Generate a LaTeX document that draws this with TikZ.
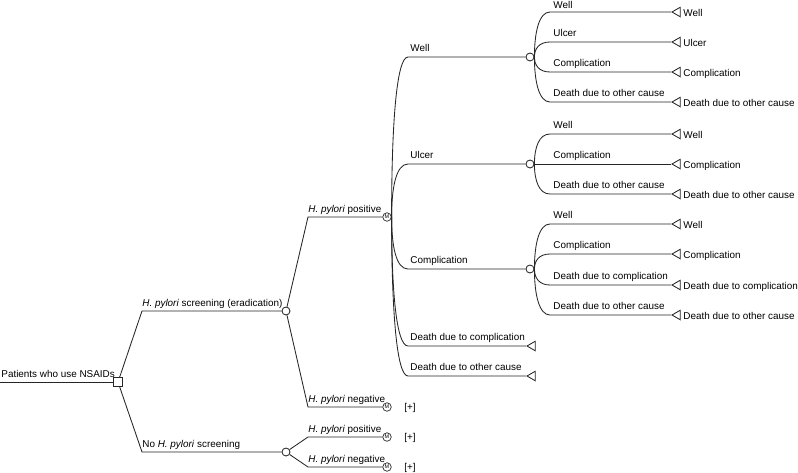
\documentclass[tikz,border=0pt]{standalone}
\usepackage{fontspec}
\setmainfont{Liberation Sans}
\usetikzlibrary{shapes.geometric}
\begin{document}
\begin{tikzpicture}[x=1pt,y=-1pt,line width=0.85pt,draw=black!85,
  lbl/.style={anchor=base west,inner sep=0,font=\fontsize{9.9}{12}\selectfont},
  chance/.style={circle,draw,fill=white,minimum size=8pt,inner sep=0},
  markov/.style={circle,draw,fill=white,minimum size=8.5pt,inner sep=0,line width=0.7pt,font=\fontsize{5.5}{5.5}\selectfont},
  decision/.style={rectangle,draw,fill=white,minimum size=8.5pt,inner sep=0},
  term/.style={regular polygon,regular polygon sides=3,regular polygon rotate=90,draw,minimum size=11pt,inner sep=0}]
\useasboundingbox (0,0) rectangle (798,472);

% root
\coordinate (start) at (0,382);
\node[decision] (root) at (118,382) {};
\draw (start) -- (root);
\node[lbl] (lroot) at (1,377) {Patients who use NSAIDs};

% first level
\coordinate (k1) at (142,311);
\coordinate (k2) at (142,452);
\node[chance] (c1) at (286,311) {};
\node[chance] (c2) at (286,452) {};
\draw (root) -- (k1) -- (c1);
\draw (root) -- (k2) -- (c2);
\node[lbl] (l1) at (142,306) {\textit{H. pylori} screening (eradication)};
\node[lbl] (l2) at (142,447) {No \textit{H. pylori} screening};

% second level
\coordinate (k3) at (308,217);
\coordinate (k4) at (308,407);
\coordinate (k5) at (308,437);
\coordinate (k6) at (308,467);
\node[markov] (m1) at (387,217) {M};
\node[markov] (m2) at (387,407) {M};
\node[markov] (m3) at (387,437) {M};
\node[markov] (m4) at (387,467) {M};
\draw (c1) -- (k3) -- (m1);
\draw (c1) -- (k4) -- (m2);
\draw (c2) -- (k5) -- (m3);
\draw (c2) -- (k6) -- (m4);
\node[lbl] (l3) at (308,212) {\textit{H. pylori} positive};
\node[lbl] (l4) at (308,402) {\textit{H. pylori} negative};
\node[lbl] (l5) at (308,432) {\textit{H. pylori} positive};
\node[lbl] (l6) at (308,462) {\textit{H. pylori} negative};
\node[lbl] (p2) at (404,410) {[+]};
\node[lbl] (p3) at (404,440) {[+]};
\node[lbl] (p4) at (404,470) {[+]};

% Markov fan
\coordinate (h1) at (408,57);
\coordinate (h2) at (408,164);
\coordinate (h3) at (408,269);
\coordinate (h4) at (408,346);
\coordinate (h5) at (408,376);
\node[chance] (cw) at (530,57) {};
\node[chance] (cu) at (530,164) {};
\node[chance] (cc) at (530,269) {};
\node[term] (td1) at (532.5,346) {};
\node[term] (td2) at (532.5,376) {};
\draw (m1.east) .. controls +(0,-87) and +(-12,0) .. (h1) -- (cw);
\draw (m1.east) .. controls +(0,-29) and +(-12,0) .. (h2) -- (cu);
\draw (m1.east) .. controls +(0,29) and +(-12,0) .. (h3) -- (cc);
\draw (m1.east) .. controls +(0,71) and +(-12,0) .. (h4) -- (td1);
\draw (m1.east) .. controls +(0,87) and +(-12,0) .. (h5) -- (td2);
\node[lbl] (lh1) at (410,51) {Well};
\node[lbl] (lh2) at (410,158) {Ulcer};
\node[lbl] (lh3) at (410,263) {Complication};
\node[lbl] (lh4) at (410,340) {Death due to complication};
\node[lbl] (lh5) at (410,370) {Death due to other cause};

% Well fan
\foreach \y/\n/\t in {12/1/Well,42/2/Ulcer,72/3/Complication,102/4/Death due to other cause}{
  \coordinate (wa\n) at (550,\y);
  \node[term] (wt\n) at (677.5,\y) {};
  \draw (cw.east) .. controls +(0,{0.55*(\y-57)}) and +(-11,0) .. (wa\n) -- (wt\n);
  \node[lbl] (wr\n) at (683,\y+4) {\t};
}
\node[lbl] (wl1) at (553,8.5) {Well};
\node[lbl] (wl2) at (553,36) {Ulcer};
\node[lbl] (wl3) at (553,66) {Complication};
\node[lbl] (wl4) at (553,96) {Death due to other cause};
% Ulcer fan
\foreach \y/\n/\t in {134/1/Well,194/3/Death due to other cause}{
  \coordinate (ua\n) at (550,\y);
  \node[term] (ut\n) at (677.5,\y) {};
  \draw (cu.east) .. controls +(0,{0.55*(\y-164)}) and +(-11,0) .. (ua\n) -- (ut\n);
  \node[lbl] (ul\n) at (553,\y-6) {\t};
  \node[lbl] (ur\n) at (683,\y+4) {\t};
}
\node[term] (ut2) at (677.5,164) {};
\draw (cu) -- (ut2);
\node[lbl] (ul2) at (553,158) {Complication};
\node[lbl] (ur2) at (683,168) {Complication};
% Complication fan
\foreach \y/\n/\t in {224/1/Well,254/2/Complication,285/3/Death due to complication,315/4/Death due to other cause}{
  \coordinate (ca\n) at (550,\y);
  \node[term] (ct\n) at (677.5,\y) {};
  \draw (cc.east) .. controls +(0,{0.55*(\y-269)}) and +(-11,0) .. (ca\n) -- (ct\n);
  \node[lbl] (cl\n) at (553,\y-6) {\t};
  \node[lbl] (cr\n) at (683,\y+4) {\t};
}
\end{tikzpicture}
\end{document}
